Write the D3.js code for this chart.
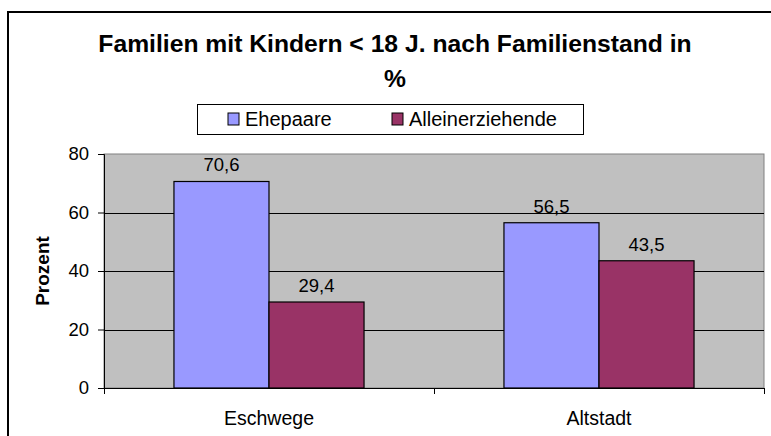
<!DOCTYPE html>
<html lang="de">
<head>
    <meta charset="UTF-8">
    <title>Familien mit Kindern</title>
    <script type="text/javascript" src="https://cdn.jsdelivr.net/npm/d3@7/dist/d3.min.js"></script>
    <style>
        body { margin: 0; background: #fff; }
        text { font-family: "Liberation Sans", Arial, sans-serif; fill: #000; }
    </style>
</head>
<body>

<script>
    var width = 771;
    var height = 436;

    // Daten
    var categories = ["Eschwege", "Altstadt"];
    var seriesNames = ["Ehepaare", "Alleinerziehende"];
    var ehepaare = [70.6, 56.5];
    var alleinerziehende = [29.4, 43.5];
    var yTicks = [0, 20, 40, 60, 80];
    var colors = ["#9999ff", "#993366"];

    var seriesValues = [ehepaare, alleinerziehende];

    var svg = d3.select("body").append("svg")
        .attr("width", width)
        .attr("height", height);

    // Rahmen um das Diagramm
    svg.append("rect")
        .attr("x", 8).attr("y", 12)
        .attr("width", 820).attr("height", 500)
        .attr("fill", "#fff")
        .attr("stroke", "#000")
        .attr("stroke-width", 2);

    var plot = { left: 104, right: 764, top: 154, bottom: 388 };

    var y = d3.scaleLinear().domain([0, 80]).range([plot.bottom, plot.top]);
    var x0 = d3.scaleBand().domain(categories)
        .range([plot.left, plot.right])
        .paddingInner(0.424).paddingOuter(0.212);
    var x1 = d3.scaleBand().domain(seriesNames).range([0, x0.bandwidth()]);

    // grauer Hintergrund
    svg.append("rect")
        .attr("x", plot.left).attr("y", plot.top)
        .attr("width", plot.right - plot.left)
        .attr("height", plot.bottom - plot.top)
        .attr("fill", "#c0c0c0")
        .attr("stroke", "#808080")
        .attr("stroke-width", 1);

    // Gitternetzlinien
    svg.selectAll("line.grid")
        .data(yTicks.filter(function (d) { return d > 0 && d < 80; }))
        .enter().append("line")
        .attr("class", "grid")
        .attr("x1", plot.left).attr("x2", plot.right)
        .attr("y1", function (d) { return Math.round(y(d)) + 0.5; })
        .attr("y2", function (d) { return Math.round(y(d)) + 0.5; })
        .attr("stroke", "#000")
        .attr("stroke-width", 1);

    // Balken
    var groups = svg.selectAll("g.cat")
        .data(categories)
        .enter().append("g")
        .attr("class", "cat")
        .attr("transform", function (d) { return "translate(" + x0(d) + ",0)"; });

    groups.selectAll("rect")
        .data(function (c, ci) {
            return seriesNames.map(function (s, si) {
                return { name: s, value: seriesValues[si][ci], idx: si };
            });
        })
        .enter().append("rect")
        .attr("x", function (d) { return x1(d.name); })
        .attr("y", function (d) { return y(d.value); })
        .attr("width", x1.bandwidth())
        .attr("height", function (d) { return y(0) - y(d.value); })
        .attr("fill", function (d) { return colors[d.idx]; })
        .attr("stroke", "#000")
        .attr("stroke-width", 1.2);

    // Datenbeschriftungen
    groups.selectAll("text.val")
        .data(function (c, ci) {
            return seriesNames.map(function (s, si) {
                return { name: s, value: seriesValues[si][ci] };
            });
        })
        .enter().append("text")
        .attr("class", "val")
        .attr("x", function (d) { return x1(d.name) + x1.bandwidth() / 2; })
        .attr("y", function (d) { return y(d.value) - 10; })
        .attr("text-anchor", "middle")
        .style("font-size", "18.5px")
        .text(function (d) { return String(d.value).replace(".", ","); });

    // y-Achse
    var yAxis = d3.axisLeft(y).tickValues(yTicks).tickSize(6).tickPadding(9);
    var gy = svg.append("g")
        .attr("transform", "translate(" + plot.left + ",0)")
        .call(yAxis);
    gy.select(".domain").attr("stroke", "#000");
    gy.selectAll("text").style("font-size", "18.5px").attr("font-family", null);

    // x-Achse
    var xAxis = d3.axisBottom(x0).tickSize(0).tickPadding(23);
    var gx = svg.append("g")
        .attr("transform", "translate(0," + plot.bottom + ")")
        .call(xAxis);
    gx.select(".domain").attr("d", "M" + (plot.left - 6) + ",0.5H" + plot.right).attr("stroke", "#000");
    gx.selectAll("text").style("font-size", "19.5px").attr("font-family", null);

    // Trennstriche zwischen den Kategorien
    var sep = [plot.left].concat(categories.map(function (c) { return x0(c) + x0.bandwidth() + x0.step() * 0.212; }));
    svg.selectAll("line.sep")
        .data(sep)
        .enter().append("line")
        .attr("x1", function (d) { return Math.round(d) + 0.5; })
        .attr("x2", function (d) { return Math.round(d) + 0.5; })
        .attr("y1", plot.bottom).attr("y2", plot.bottom + 6)
        .attr("stroke", "#000");

    // Achsentitel
    svg.append("text")
        .attr("transform", "translate(49," + ((plot.top + plot.bottom) / 2) + ") rotate(-90)")
        .attr("text-anchor", "middle")
        .style("font-size", "19px")
        .style("font-weight", "bold")
        .text("Prozent");

    // Titel
    var title = svg.append("text")
        .attr("text-anchor", "middle")
        .style("font-size", "24.7px")
        .style("font-weight", "bold");
    title.append("tspan").attr("x", 395).attr("y", 52).text("Familien mit Kindern < 18 J. nach Familienstand in");
    title.append("tspan").attr("x", 395).attr("y", 87).text("%");

    // Legende
    var legend = svg.append("g");
    legend.append("rect")
        .attr("x", 197.5).attr("y", 104.5)
        .attr("width", 386).attr("height", 30)
        .attr("fill", "#fff")
        .attr("stroke", "#000");

    var legendX = [228, 392];
    var items = legend.selectAll("g.item")
        .data(seriesNames)
        .enter().append("g")
        .attr("transform", function (d, i) { return "translate(" + legendX[i] + ",113)"; });
    items.append("rect")
        .attr("width", 11).attr("height", 12)
        .attr("fill", function (d, i) { return colors[i]; })
        .attr("stroke", "#000");
    items.append("text")
        .attr("x", 17).attr("y", 12.5)
        .style("font-size", "20px")
        .text(function (d) { return d; });
</script>

</body>
</html>
